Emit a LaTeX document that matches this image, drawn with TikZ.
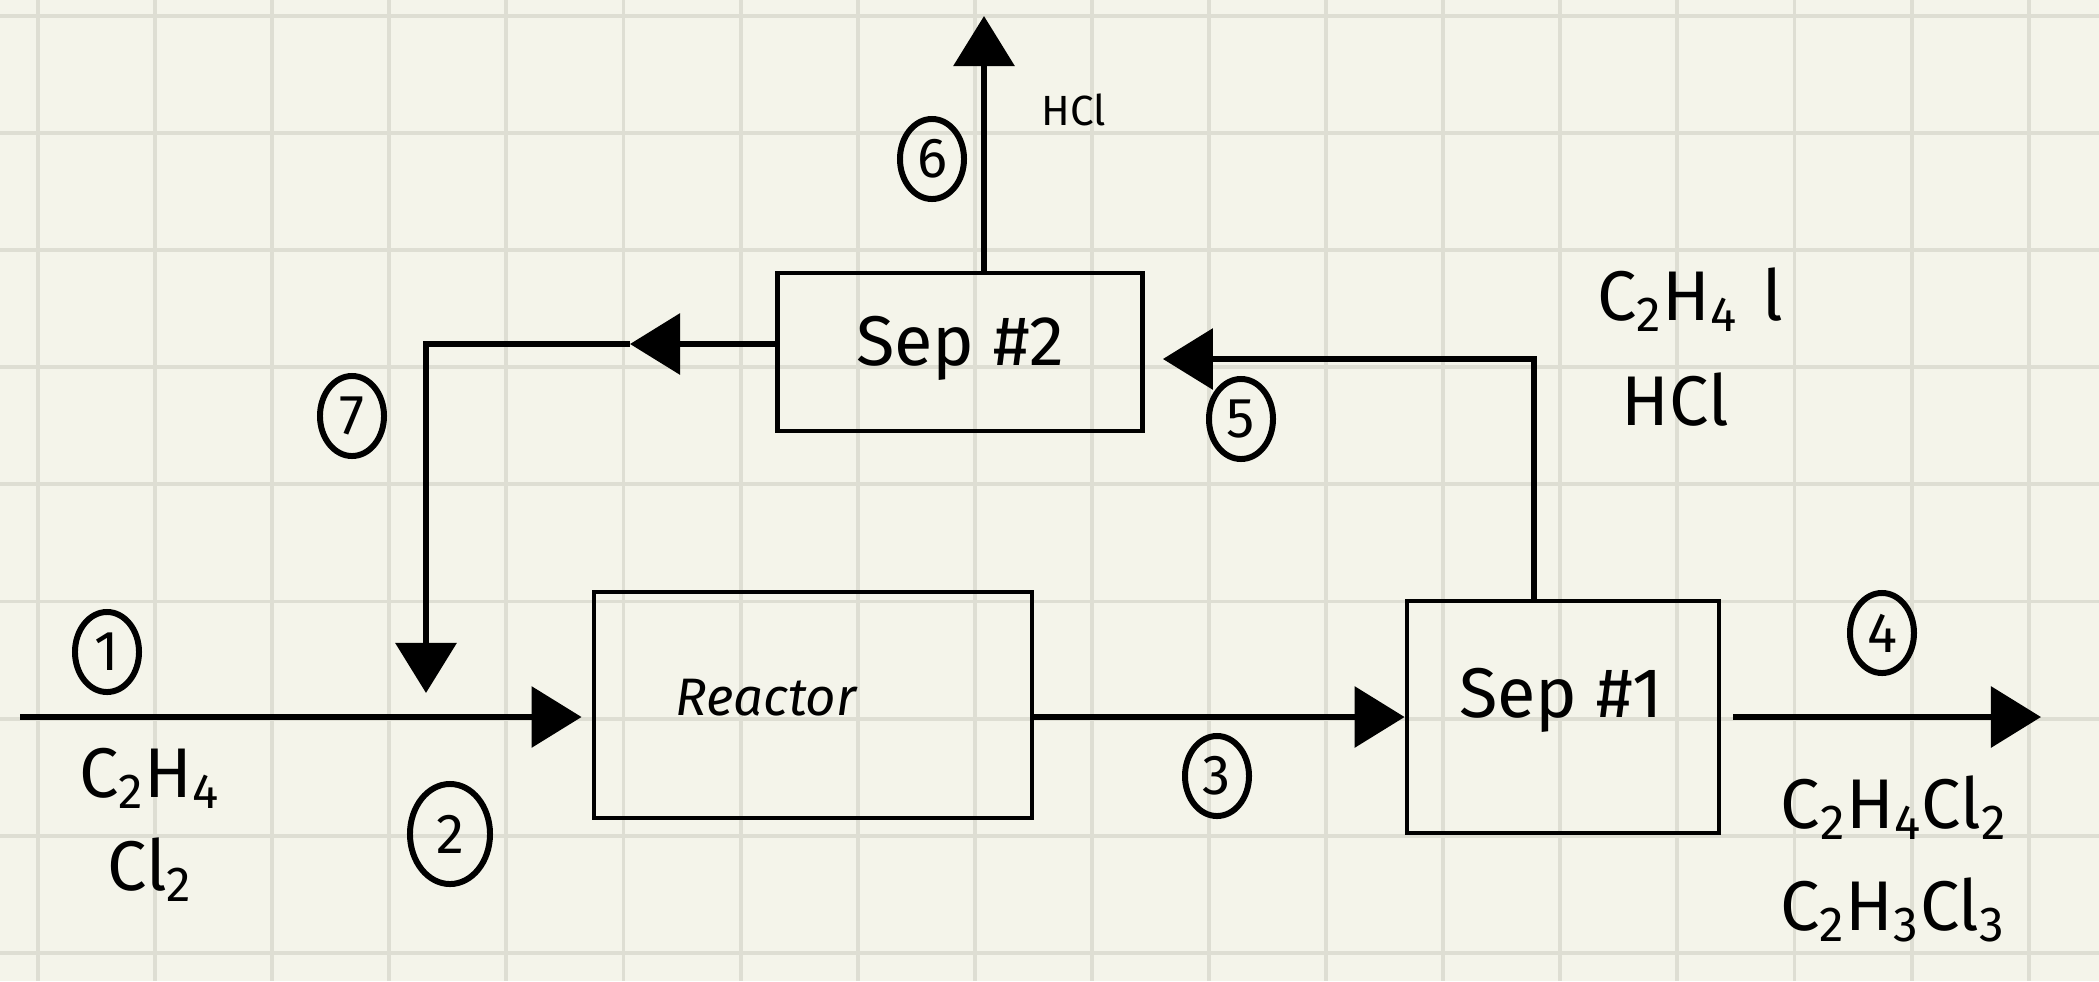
\documentclass[tikz,border=0pt]{standalone}
\usepackage{fontspec}
\setmainfont{Fira Sans}
\usetikzlibrary{arrows.meta,shapes.geometric}
\definecolor{paper}{RGB}{244,244,234}
\definecolor{gridc}{RGB}{222,222,211}
\newcommand{\sbs}[1]{\textsubscript{#1}}
\begin{document}
\begin{tikzpicture}[x=0.01cm,y=-0.01cm,
  unitbox/.style={draw,line width=1.3pt,inner sep=0pt},
  flow/.style={line width=1.8pt,-{Triangle[length=0.5cm,width=0.6cm]}},
  num/.style={ellipse,draw,line width=1.7pt,minimum width=0.64cm,minimum height=0.8cm,inner sep=0pt,font=\fontsize{16}{16}\selectfont},
  chem/.style={font=\fontsize{20}{22}\selectfont,inner sep=0pt},
  title/.style={font=\fontsize{20}{22}\selectfont}]
\fill[paper] (0,0) rectangle (2099,981);
\useasboundingbox (0,0) rectangle (2099,981);
\foreach \i in {0,...,17} {\draw[gridc,line width=1.1pt] (38+117.1*\i,0) -- (38+117.1*\i,981);}
\foreach \j in {0,...,8} {\draw[gridc,line width=1.1pt] (0,16+117.1*\j) -- (2099,16+117.1*\j);}

% units
\node[unitbox,minimum width=3.65cm,minimum height=1.58cm] (sep2) at (960,352) {};
\node[title] at (960,348) {Sep \#2};
\node[unitbox,minimum width=4.38cm,minimum height=2.26cm] (reactor) at (813,705) {};
\node[font=\itshape\fontsize{15}{16}\selectfont] at (766,698) {Reactor};
\node[unitbox,minimum width=3.12cm,minimum height=2.32cm] (sep1) at (1563,717) {};
\node[title] at (1561,700) {Sep \#1};

% coordinates
\coordinate (in1) at (20,717);
\coordinate (m7) at (630,344);
\coordinate (c7) at (426,344);
\coordinate (e7) at (426,693);
\coordinate (c5) at (1534,359);
\coordinate (c6) at (984,16);
\coordinate (out4) at (2041,717);

% streams
\draw[flow,shorten >=0.1cm] (in1) -- (reactor.west |- in1);
\draw[flow] (reactor.east |- sep1) -- (sep1.west);
\draw[flow] ([xshift=0.12cm]sep1.east) -- (out4);
\draw[flow,shorten >=0.18cm] (sep1.north -| c5) -- (c5) -- (sep2.east |- c5);
\draw[flow] (sep2.north -| c6) -- (c6);
\draw[flow] (sep2.west |- m7) -- (m7);
\draw[flow] (m7) -- (c7) -- (e7);

% stream numbers
\node[num] (n1) at (107,652) {1};
\node[num,minimum width=0.8cm,minimum height=1.0cm] (n2) at (450,834) {2};
\node[num] (n3) at (1217,776) {3};
\node[num] (n4) at (1882,633) {4};
\node[num] (n5) at (1241,419) {5};
\node[num] (n6) at (932,159) {6};
\node[num] (n7) at (352,416) {7};

% compositions
\node[font=\fontsize{12}{14}\selectfont] (hcl6) at (1074,110) {HCl};
\node[chem] (c5a) at (1690,300) {C\sbs{2}H\sbs{4}\,\,l};
\node[chem] (c5b) at (1675,400) {HCl};
\node[chem] (c1a) at (150,778) {C\sbs{2}H\sbs{4}};
\node[chem] (c1b) at (150,870) {Cl\sbs{2}};
\node[chem] (c4a) at (1894,808) {C\sbs{2}H\sbs{4}Cl\sbs{2}};
\node[chem] (c4b) at (1893,910) {C\sbs{2}H\sbs{3}Cl\sbs{3}};
\end{tikzpicture}
\end{document}
